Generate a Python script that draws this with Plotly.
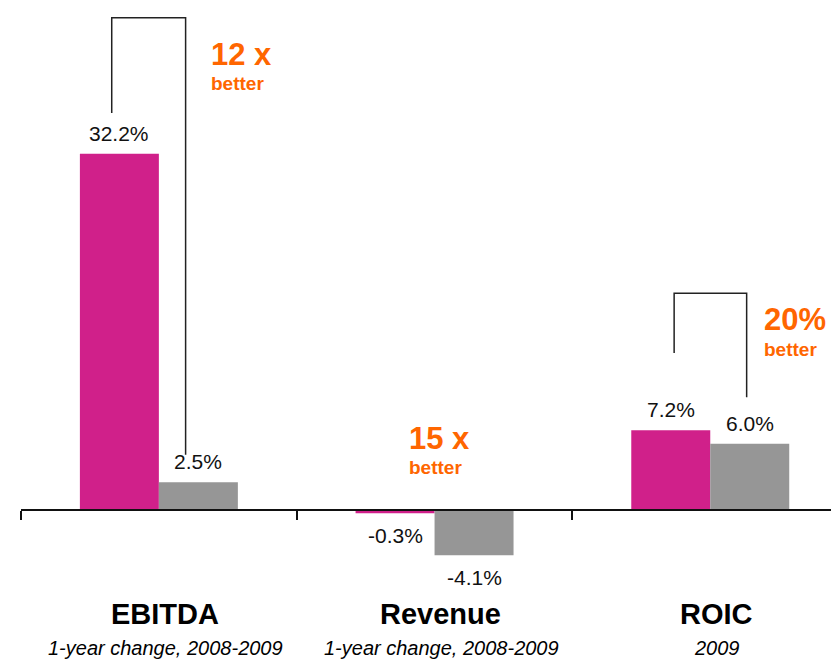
import plotly.graph_objects as go

# ---- data ----
categories = ["EBITDA", "Revenue", "ROIC"]
subtitles = ["1-year change, 2008-2009", "1-year change, 2008-2009", "2009"]
series_a = [32.2, -0.3, 7.2]   # magenta
series_b = [2.5, -4.1, 6.0]    # gray
labels_a = ["32.2%", "-0.3%", "7.2%"]
labels_b = ["2.5%", "-4.1%", "6.0%"]

callout_big = ["12 x", "15 x", "20%"]
callout_small = ["better", "better", "better"]
callout_x = [0.182, 0.900, 2.188]
callout_y = [41.2, 6.5, 17.2]

# brackets: (x_left, x_right, y_top, y_left_bottom, y_right_bottom)
brackets = [
    (-0.171, 0.097, 44.5, 35.9, 5.0),
    (1.869, 2.132, 19.6, 14.2, 10.2),
]

MAGENTA = "#D0208A"
GRAY = "#969696"
ORANGE = "#FF6600"
FONT = "Liberation Sans, Arial, sans-serif"

xs = list(range(len(categories)))
bargap = 0.427
bw = (1 - bargap) / 2

fig = go.Figure()
fig.add_trace(go.Bar(x=xs, y=series_a, marker_color=MAGENTA, marker_line_width=0,
                     hoverinfo="skip"))
fig.add_trace(go.Bar(x=xs, y=series_b, marker_color=GRAY, marker_line_width=0,
                     hoverinfo="skip"))

ann = []
for i, x in enumerate(xs):
    for off, v, lab in ((-bw / 2, series_a[i], labels_a[i]), (bw / 2, series_b[i], labels_b[i])):
        if v >= 0:
            ann.append(dict(x=x + off, y=v, text=lab, showarrow=False, yanchor="bottom",
                            yshift=7, font=dict(size=21, color="#111", family=FONT)))
        else:
            ann.append(dict(x=x + off, y=v, text=lab, showarrow=False, yanchor="top",
                            yshift=-9, font=dict(size=21, color="#111", family=FONT)))
    ann.append(dict(x=x, y=-9.4, text="<b>" + categories[i] + "</b>", showarrow=False,
                    xshift=6, yanchor="middle",
                    font=dict(size=29, color="#000", family=FONT)))
    ann.append(dict(x=x, y=-12.5, text="<i>" + subtitles[i] + "</i>", showarrow=False,
                    xshift=7, yanchor="middle",
                    font=dict(size=20, color="#000", family=FONT)))
    ann.append(dict(x=callout_x[i], y=callout_y[i], text="<b>" + callout_big[i] + "</b>",
                    showarrow=False, xanchor="left", yanchor="middle",
                    font=dict(size=31, color=ORANGE, family=FONT)))
    ann.append(dict(x=callout_x[i], y=callout_y[i] - 2.65, text="<b>" + callout_small[i] + "</b>",
                    showarrow=False, xanchor="left", yanchor="middle",
                    font=dict(size=19, color=ORANGE, family=FONT)))

shapes = []
for xl, xr, yt, ylb, yrb in brackets:
    shapes.append(dict(type="path", xref="x", yref="y",
                       path=f"M {xl},{ylb} L {xl},{yt} L {xr},{yt} L {xr},{yrb}",
                       line=dict(color="#222", width=1.5)))

# page body adds an 8px offset; size the figure to fit the window exactly
OFF = 8
px_per_cat = 275.7
W, H = 839 - OFF, 660 - OFF
left = 21 - OFF
zero_px = 510 - OFF
px_per_unit = 11.06

fig.update_layout(
    width=W, height=H,
    margin=dict(l=left, r=0, t=0, b=0),
    paper_bgcolor="white", plot_bgcolor="white",
    barmode="group", bargap=bargap, bargroupgap=0,
    showlegend=False,
    annotations=ann, shapes=shapes,
    xaxis=dict(range=[-0.5001, -0.5 + (W - left) / px_per_cat],
               anchor="free", position=(H - zero_px) / H,
               showline=True, linecolor="#111", linewidth=1.5,
               ticks="outside", ticklen=9, tickwidth=1.5, tickcolor="#111",
               tickvals=[-0.5, 0.5, 1.5, 2.5], showticklabels=False,
               showgrid=False, zeroline=False, fixedrange=True),
    yaxis=dict(range=[-(H - zero_px) / px_per_unit, zero_px / px_per_unit],
               visible=False, showgrid=False, zeroline=False, fixedrange=True),
)

fig.write_html("out.html")
